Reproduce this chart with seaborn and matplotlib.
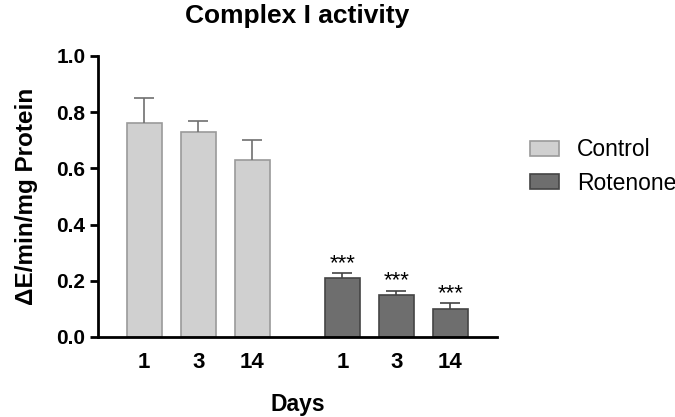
import numpy as np
import pandas as pd
import matplotlib
matplotlib.use("Agg")
import matplotlib.pyplot as plt
import seaborn as sns
from matplotlib.patches import Patch

# data
groups = ["Control", "Rotenone"]
days = ["1", "3", "14"]
control_mean = [0.76, 0.73, 0.63]
control_sd = [0.09, 0.04, 0.07]
rotenone_mean = [0.21, 0.15, 0.10]
rotenone_sd = [0.018, 0.015, 0.02]
stars = ["***", "***", "***"]

fill_colors = ["#d0d0d0", "#6e6e6e"]
edge_colors = ["#9a9a9a", "#444444"]
err_colors = ["#707070", "#444444"]

# bar positions: gap between the two groups
group_start = [0.0, 3.67]
rows = []
for g, start, means, sds in zip(groups, group_start,
                                [control_mean, rotenone_mean],
                                [control_sd, rotenone_sd]):
    for i, d in enumerate(days):
        rows.append({"group": g, "day": d, "pos": start + i,
                     "value": means[i], "sd": sds[i]})
df = pd.DataFrame(rows)

sns.set_style("ticks")
plt.rcParams['font.family'] = ['Liberation Sans', 'DejaVu Sans']
plt.rcParams.update({"text.color": "black", "axes.labelcolor": "black",
                     "xtick.color": "black", "ytick.color": "black"})

fig, ax = plt.subplots(figsize=(6.75, 4.17), dpi=100)
fig.subplots_adjust(left=0.145, right=0.736, bottom=0.192, top=0.866)

sns.barplot(data=df, x="pos", y="value", hue="group", hue_order=groups,
            palette=fill_colors, native_scale=True, dodge=False,
            width=0.65, errorbar=None, linewidth=1.2, legend=False, ax=ax)

for cont, ec in zip(ax.containers, edge_colors):
    for p in cont:
        p.set_edgecolor(ec)

# upward-only error bars
for g, ec in zip(groups, err_colors):
    sub = df[df["group"] == g]
    _, caps, _ = ax.errorbar(sub["pos"], sub["value"],
                             yerr=[np.zeros(len(sub)), sub["sd"]],
                             fmt="none", ecolor=ec, elinewidth=1.2,
                             capsize=7, capthick=1.2, zorder=1)
    caps[0].set_visible(False)

# significance stars
sub = df[df["group"] == "Rotenone"]
for (_, r), s in zip(sub.iterrows(), stars):
    ax.text(r["pos"], r["value"] + r["sd"] + 0.014, s, ha="center",
            va="baseline", fontsize=16, color="black")

ax.set_xlim(-0.86, 6.53)
ax.set_ylim(0, 1.0)
ax.set_yticks(np.arange(0, 1.01, 0.2))
ax.set_yticklabels([f"{v:.1f}" for v in np.arange(0, 1.01, 0.2)],
                   fontsize=15, fontweight="bold")
ax.set_xticks(df["pos"])
ax.set_xticklabels(list(days) * 2, fontsize=16, fontweight="bold")
ax.tick_params(axis="x", length=0, pad=11)
ax.tick_params(axis="y", length=6, width=2, pad=3)

for side in ["top", "right"]:
    ax.spines[side].set_visible(False)
for side in ["left", "bottom"]:
    ax.spines[side].set_linewidth(2)
    ax.spines[side].set_color("black")

ax.set_xlabel("Days", fontsize=16.5, fontweight="bold", labelpad=14)
ax.set_ylabel("ΔE/min/mg Protein", fontsize=17.5, fontweight="bold", labelpad=13)
ax.set_title("Complex I activity", fontsize=19, fontweight="bold", pad=24)

handles = [Patch(facecolor=fc, edgecolor=ec, linewidth=1.2)
           for fc, ec in zip(fill_colors, edge_colors)]
fig.legend(handles, groups, loc="upper left", bbox_to_anchor=(0.785, 0.668),
           frameon=False, fontsize=16.5, handlelength=1.25, handleheight=0.6,
           handletextpad=0.8, labelspacing=0.45, borderpad=0, borderaxespad=0)

plt.savefig("out.png", dpi=100, facecolor="white")
